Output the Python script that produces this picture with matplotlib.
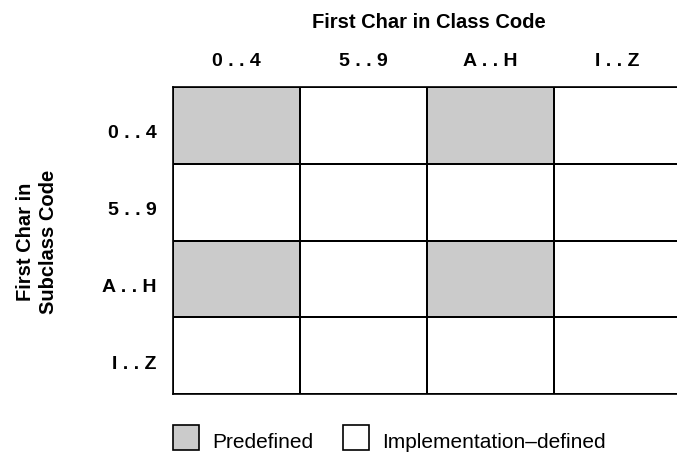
import numpy as np
import matplotlib
matplotlib.use("Agg")
import matplotlib.pyplot as plt
from matplotlib.patches import Rectangle
from matplotlib.colors import ListedColormap

plt.rcParams['font.family'] = ['Liberation Sans', 'DejaVu Sans']

# class code (columns) and subclass code (rows)
class_labels = ["0 . . 4", "5 . . 9", "A . . H", "I . . Z"]
subclass_labels = ["0 . . 4", "5 . . 9", "A . . H", "I . . Z"]
# 1 = predefined, 0 = implementation-defined
predefined = np.array([
    [1, 0, 1, 0],
    [0, 0, 0, 0],
    [1, 0, 1, 0],
    [0, 0, 0, 0],
])
legend_labels = ["Predefined", "Implementation\u2013defined"]

gray = "#cbcbcb"
W, H = 677, 453
fig = plt.figure(figsize=(W / 100, H / 100), dpi=100)
ax = fig.add_axes([173 / W, (H - 394) / H, 508 / W, 307 / H])

cmap = ListedColormap(["white", gray])
ax.pcolormesh(predefined, cmap=cmap, vmin=0, vmax=1,
              edgecolors="black", linewidth=1.2)
ax.set_xlim(0, 4)
ax.set_ylim(4, 0)
for s in ax.spines.values():
    s.set_linewidth(1.2)
ax.set_xticks([])
ax.set_yticks([])

# column labels
for i, lab in enumerate(class_labels):
    x = (173 + 127 * (i + 0.5)) / W
    fig.text(x, (H - 61) / H, lab, ha="center", va="center",
             fontsize=14, fontweight="bold")
fig.text(429 / W, (H - 22) / H, "First Char in Class Code", ha="center",
         va="center", fontsize=14.5, fontweight="bold")

# row labels
for j, lab in enumerate(subclass_labels):
    y = 87 + 77 * (j + 0.5) + 8
    fig.text(157 / W, (H - y) / H, lab, ha="right", va="center",
             fontsize=14, fontweight="bold")
fig.text(37 / W, (H - 242) / H, "First Char in\nSubclass Code", ha="center",
         va="center", rotation=90, fontsize=14.5, fontweight="bold",
         linespacing=1.25)

# legend
for x0, tx, lab, fc in [(173, 212, legend_labels[0], gray),
                        (343, 382, legend_labels[1], "white")]:
    fig.add_artist(Rectangle((x0 / W, (H - 450) / H), 26 / W, 25 / H,
                             transform=fig.transFigure, facecolor=fc,
                             edgecolor="black", linewidth=1.2))
    fig.text(tx / W, (H - 442) / H, lab, ha="left", va="center", fontsize=15)

fig.savefig("out.png", dpi=100)
